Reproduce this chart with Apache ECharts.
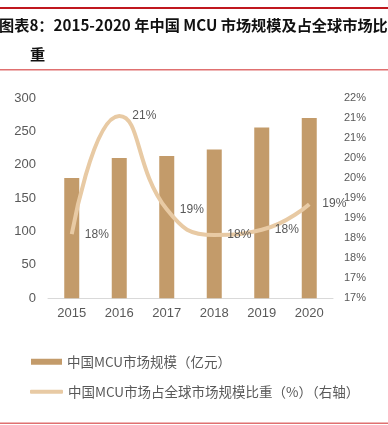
<!DOCTYPE html>
<html><head><meta charset="utf-8">
<script src="https://cdn.jsdelivr.net/npm/echarts@6/dist/echarts.min.js"></script>
<style>html,body{margin:0;padding:0;background:#fff}#c{width:388px;height:425px}</style>
</head><body><div id="c"></div>
<script>
const categories = ['2015','2016','2017','2018','2019','2020'];
const marketSize = [180, 210, 213, 223, 256, 270];
const globalShare = [18.1, 21.05, 18.72, 18.08, 18.21, 18.85];
const barName = '中国MCU市场规模（亿元）';
const lineName = '中国MCU市场占全球市场规模比重（%）（右轴）';
const titleLine1 = '图表8：2015-2020 年中国 MCU 市场规模及占全球市场比';
const titleLine2 = '重';

const chart = echarts.init(document.getElementById('c'));
const font = '"Noto Sans CJK SC", "Liberation Sans", sans-serif';
chart.setOption({
  animation: false,
  grid: {left: 48, right: 55, top: 98, bottom: 126.7},
  graphic: [
    {type:'rect', shape:{x:0,y:7,width:388,height:2}, style:{fill:'#c0181f'}},
    {type:'rect', shape:{x:0,y:69,width:388,height:1.5}, style:{fill:'#e07070'}},
    {type:'rect', shape:{x:0,y:422.5,width:388,height:1.5}, style:{fill:'#e07070'}},
    {type:'text', left:-1, top:18, style:{text:titleLine1, font:'bold 15.2px ' + font, fill:'#111'}},
    {type:'text', left:30, top:47, style:{text:titleLine2, font:'bold 15.2px ' + font, fill:'#111'}}
  ],
  legend: [
    {data:[barName], left:26, top:350, icon:'rect', itemWidth:31, itemHeight:6,
     textStyle:{color:'#595959', fontSize:13.5, fontFamily:font}},
    {data:[lineName], left:25, top:380, icon:'roundRect', itemWidth:33, itemHeight:4,
     textStyle:{color:'#595959', fontSize:13.5, fontFamily:font}}
  ],
  xAxis: {type:'category', data:categories,
    axisLine:{lineStyle:{color:'#d9d9d9', width:1}}, axisTick:{show:false},
    axisLabel:{color:'#595959', fontSize:13, margin:9, fontFamily:'"Liberation Sans", Arial'}},
  yAxis: [
    {type:'value', min:0, max:300, interval:50, splitLine:{show:false},
     axisLine:{show:false}, axisTick:{show:false},
     axisLabel:{color:'#595959', fontSize:13, margin:12, fontFamily:'"Liberation Sans", Arial'}},
    {type:'value', min:16.5, max:21.5, interval:0.5, splitLine:{show:false},
     axisLine:{show:false}, axisTick:{show:false},
     axisLabel:{color:'#595959', fontSize:11, margin:11, fontFamily:'"Liberation Sans", Arial',
       formatter: v => Math.round(v + 1e-6) + '%'}}
  ],
  series: [
    {name:barName, type:'bar', data:marketSize, barWidth:15,
     itemStyle:{color:'#c39b6a'}},
    {name:lineName, type:'line', yAxisIndex:1, data:globalShare, smooth:0.5,
     symbol:'circle', symbolSize:0.1, showSymbol:true,
     lineStyle:{color:'#e8caa4', width:4}, itemStyle:{color:'#e8caa4'},
     label:{show:true, position:'right', distance:13, color:'#595959', fontSize:12,
       fontFamily:'"Liberation Sans", Arial', formatter: p => Math.round(p.value) + '%'}}
  ]
});
</script></body></html>
